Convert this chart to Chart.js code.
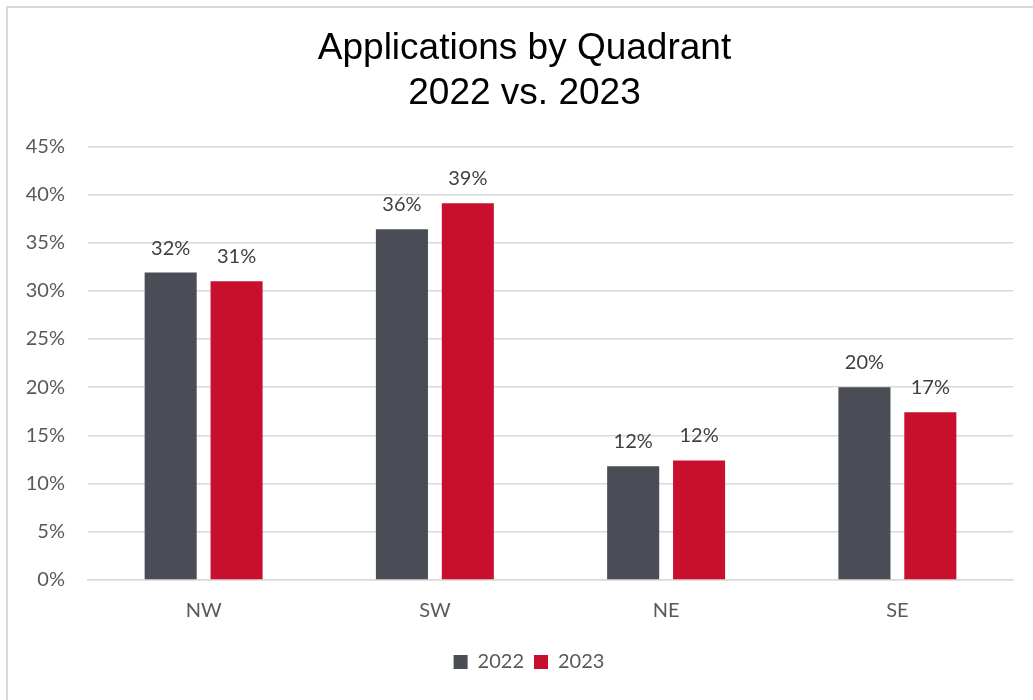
<!DOCTYPE html>
<html>
<head>
<meta charset="utf-8">
<script src="https://cdn.jsdelivr.net/npm/chart.js@4"></script>
<style>
  html, body { margin: 0; padding: 0; background: #fff; overflow: hidden; }
  #frame { position: absolute; left: 6px; top: 6px; width: 1040px; height: 710px; border: 2px solid #d9d9d9; }
  #wrap { position: absolute; left: 0; top: 0; width: 1033px; height: 700px; }
</style>
</head>
<body>
<div id="frame"></div>
<div id="wrap"><canvas id="quadChart"></canvas></div>
<script>
const quadrants = ['NW', 'SW', 'NE', 'SE'];
const apps2022 = [31.9, 36.4, 11.8, 20.0];
const apps2023 = [31.0, 39.1, 12.4, 17.4];
const yTicks = [0, 5, 10, 15, 20, 25, 30, 35, 40, 45];

// values printed above each bar
const barLabels = {
    id: 'barLabels',
    afterDatasetsDraw(chart) {
        const c = chart.ctx;
        c.save();
        c.font = '20px Lato';
        c.fillStyle = '#404040';
        c.textAlign = 'center';
        c.textBaseline = 'alphabetic';
        chart.data.datasets.forEach((ds, i) => {
            chart.getDatasetMeta(i).data.forEach((bar, j) => {
                c.fillText(Math.round(ds.data[j]) + '%', bar.x, bar.y - 18);
            });
        });
        c.restore();
    }
};

// title and legend sit a bit right of the plot centre in the original
const nudge = {
    id: 'nudge',
    afterLayout(chart) {
        if (chart.titleBlock) chart.titleBlock.left += 36;
        if (chart.legend) chart.legend.left += 45;
    }
};

const ctx = document.getElementById('quadChart').getContext('2d');

new Chart(ctx, {
    type: 'bar',
    data: {
        labels: quadrants,
        datasets: [
            {
                label: '2022',
                data: apps2022,
                backgroundColor: '#4a4d55',
                borderWidth: 0,
                barPercentage: 0.79,
                categoryPercentage: 0.57
            },
            {
                label: '2023',
                data: apps2023,
                backgroundColor: '#c8102e',
                borderWidth: 0,
                barPercentage: 0.79,
                categoryPercentage: 0.57
            }
        ]
    },
    options: {
        responsive: true,
        maintainAspectRatio: false,
        animation: false,
        layout: { padding: { left: 0, right: 20, top: 26, bottom: 18 } },
        plugins: {
            title: {
                display: true,
                text: ['Applications by Quadrant', '2022 vs. 2023'],
                color: '#000',
                font: { family: '"Liberation Sans", Arial', size: 37, weight: 'normal', lineHeight: 1.22 },
                padding: { top: 0, bottom: 30 }
            },
            legend: {
                position: 'bottom',
                labels: {
                    color: '#595959',
                    font: { family: 'Lato', size: 20 },
                    boxWidth: 14,
                    boxHeight: 14,
                    padding: 10
                }
            },
            tooltip: { enabled: false }
        },
        scales: {
            x: {
                grid: { display: false, drawTicks: false },
                border: { color: '#d9d9d9', width: 1.5 },
                ticks: { color: '#595959', font: { family: 'Lato', size: 20 }, padding: 19 },
                afterFit(s) { s.height = 62; }
            },
            y: {
                min: 0,
                max: 45,
                afterBuildTicks(s) { s.ticks = yTicks.map(v => ({ value: v })); },
                grid: { color: '#d9d9d9', lineWidth: 1.5, drawTicks: false },
                border: { display: false },
                ticks: {
                    color: '#595959',
                    font: { family: 'Lato', size: 20 },
                    padding: 23,
                    callback: v => v + '%'
                },
                afterFit(s) { s.width = 88; }
            }
        }
    },
    plugins: [barLabels, nudge]
});
</script>
</body>
</html>
